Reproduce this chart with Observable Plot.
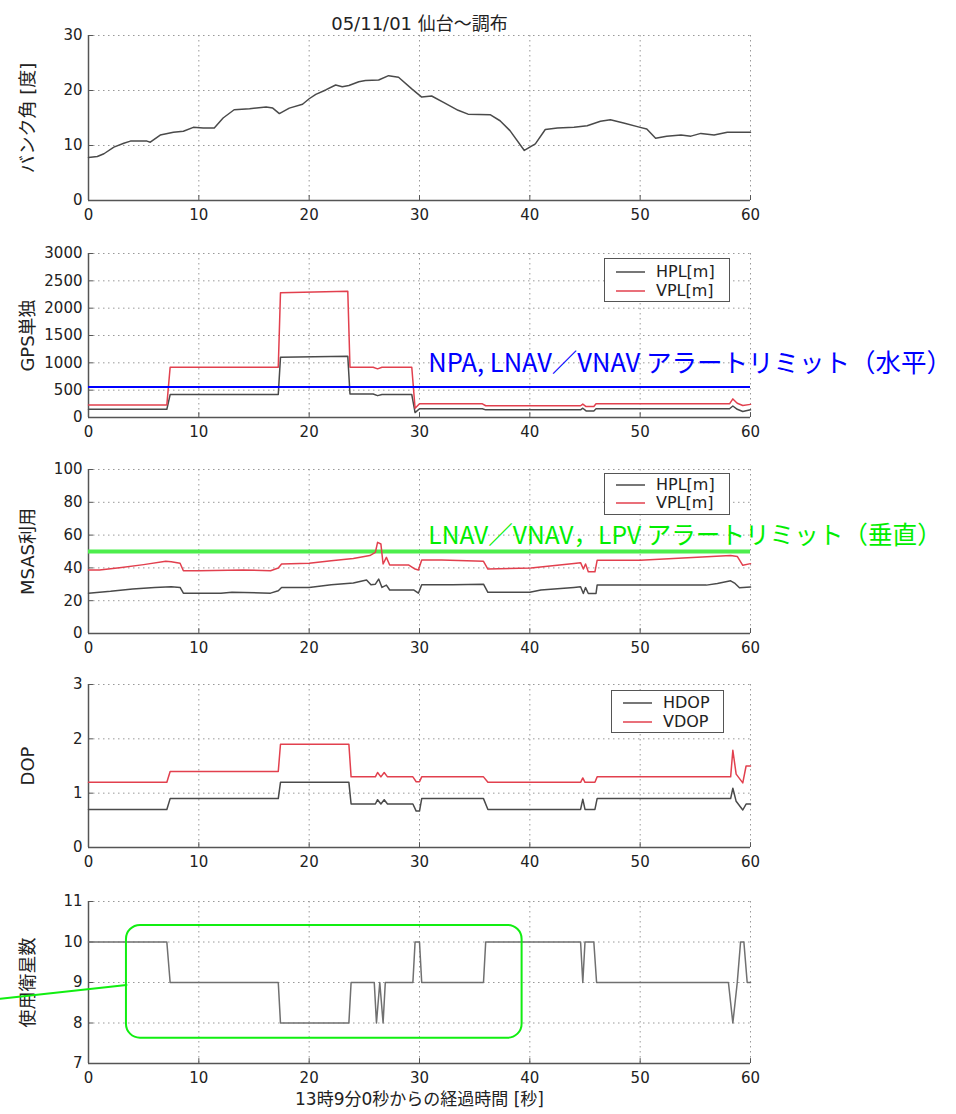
<!DOCTYPE html>
<html>
<head>
<meta charset="utf-8">
<script src="https://cdn.jsdelivr.net/npm/d3@7"></script>
<script src="https://cdn.jsdelivr.net/npm/@observablehq/plot@0.6"></script>
<style>
  body { margin: 0; background: #fff; }
  #wrap { position: relative; width: 956px; height: 1114px; overflow: hidden; background: #fff; }
  .legend { position: absolute; border: 1px solid #555; background: #fff; box-sizing: border-box; }
  .legend svg { position: absolute; left: 0; top: 0; }
  .legend .lb { position: absolute; transform: translateY(-50%); font: 16px 'DejaVu Sans', sans-serif; color: #222; white-space: nowrap; line-height: 1; }
</style>
</head>
<body>
<div id="wrap"></div>
<script>
// ---------------- data ----------------
const title = "05/11/01 仙台～調布";
const xLabel = "13時9分0秒からの経過時間 [秒]";
const xTicks = [0, 10, 20, 30, 40, 50, 60];

// Panel 1: bank angle
const bankLabel = "バンク角 [度]";
const bankTicks = [0, 10, 20, 30];
const bankT = [0,0.8,1.4,2.3,3.2,3.8,5.3,5.6,6.5,7.7,8.6,9.5,10.4,11.4,12.2,13.2,14.6,16.1,16.7,17.3,18.2,19.4,20,20.6,21.5,22.4,23,23.6,24.5,25.1,26.3,27.2,28.1,29.3,30.2,31.1,32.3,33.5,34.4,36.4,37.3,38.2,39.5,40.5,41.4,42.5,44,45.2,46.4,47.3,48.5,50,50.6,51.4,52.4,53.7,54.6,55.5,56.7,57.9,60];
const bankV = [7.8,8,8.5,9.7,10.4,10.8,10.8,10.6,11.9,12.4,12.6,13.3,13.2,13.2,15,16.5,16.7,17,16.8,15.8,16.8,17.5,18.5,19.3,20.1,21,20.7,20.9,21.6,21.8,21.9,22.7,22.4,20.3,18.8,19,17.7,16.4,15.7,15.6,14.5,12.7,9.1,10.3,12.9,13.2,13.3,13.6,14.4,14.7,14.1,13.3,13,11.3,11.7,11.9,11.7,12.2,11.9,12.4,12.4];

// Panel 2: GPS only
const gpsLabel = "GPS単独";
const gpsTicks = [0, 500, 1000, 1500, 2000, 2500, 3000];
const gpsT   = [0,7.1,7.4,17.2,17.4,23.5,23.7,25.8,26.2,26.6,29.3,29.6,30.0,35.7,36.0,44.6,44.8,45.1,45.8,46.0,58.1,58.4,58.8,59.3,60];
const gpsVPL = [230,230,920,920,2280,2310,920,920,890,920,920,170,250,250,215,215,245,200,200,250,250,340,260,220,240];
const gpsHPL = [150,150,420,420,1100,1120,430,430,400,420,420,90,160,160,140,140,170,120,120,160,160,210,150,110,140];
const gpsLimit = [556];
const gpsNote = ["NPA, LNAV／VNAV アラートリミット（水平）"];
const gpsNoteAt = [30.8, 826];

// Panel 3: MSAS
const msasLabel = "MSAS利用";
const msasTicks = [0, 20, 40, 60, 80, 100];
const msasVT = [0,1,3,5,7,7.5,8.3,8.6,10,14,16.5,17.2,17.5,20,22,24,25.5,26,26.2,26.5,26.7,27,27.3,29,29.6,29.9,30.2,32,35.8,36.2,40.1,44,44.6,44.85,45.05,45.3,45.9,46.1,50,58.2,58.8,59.3,60];
const msasVPL = [38.7,38.7,40.3,42,44,43.8,42.8,38.3,38.3,38.7,38.3,39.9,42.4,42.8,44.4,45.8,47.5,49.5,55.6,54.6,42.4,46.4,41.8,41.8,39.3,38.7,44.8,44.8,44,39.3,39.9,42.7,43.2,39.3,42.4,37.6,37.6,44.6,44.6,47.6,47,41.6,42.6];
const msasHT = [0,2,4,6,7.5,8.3,8.6,12,13,16.5,17.2,17.5,20,22,24,25.2,25.6,26,26.3,26.6,27,27.3,29.5,29.9,30.2,33,35.8,36.2,40,41,44,44.6,44.85,45.05,45.3,46,46.1,56,57,58.2,58.6,59,60];
const msasHPL = [24.6,25.7,27.1,28.1,28.5,28.1,24.6,24.6,25.2,24.6,26.1,28.1,28.1,29.7,30.8,32.6,29.7,30.1,33.2,28.1,29.5,26.5,26.5,24.6,29.7,29.7,30.1,25.1,25.1,26.5,28.1,28.5,24.4,28.0,24.4,24.4,29.5,29.5,30.5,32.1,30.5,27.9,28.3];
const msasLimit = [50];
const msasNote = ["LNAV／VNAV，LPV アラートリミット（垂直）"];
const msasNoteAt = [30.8, 54.8];

// Panel 4: DOP
const dopLabel = "DOP";
const dopTicks = [0, 1, 2, 3];
const dopT  = [0,7.1,7.4,17.2,17.4,23.6,23.8,26,26.2,26.5,26.8,27.1,29.4,29.7,30.0,30.2,35.8,36.2,44.6,44.8,45.0,45.9,46.1,58.2,58.4,58.7,59.3,59.6,60];
const vdop  = [1.2,1.2,1.4,1.4,1.9,1.9,1.3,1.3,1.38,1.3,1.38,1.3,1.3,1.21,1.21,1.3,1.3,1.2,1.2,1.28,1.2,1.2,1.3,1.3,1.79,1.35,1.19,1.5,1.5];
const hdop  = [0.7,0.7,0.9,0.9,1.2,1.2,0.8,0.8,0.88,0.8,0.88,0.8,0.8,0.67,0.67,0.9,0.9,0.7,0.7,0.89,0.7,0.7,0.9,0.9,1.09,0.85,0.69,0.8,0.8];

// Panel 5: satellites used
const satLabel = "使用衛星数";
const satTicks = [7, 8, 9, 10, 11];
const satT = [0,7.1,7.4,17.2,17.4,23.6,23.8,25.9,26.1,26.4,26.7,26.9,29.4,29.6,30.0,30.2,35.8,36.0,44.6,44.8,45.0,45.8,46.05,58.0,58.4,58.8,59.1,59.4,59.7,60];
const sats = [10,10,9,9,8,8,9,9,8,9,8,9,9,10,10,9,9,10,10,9,10,10,9,9,8,9,10,10,9,9];
const satBox = [{x1: 3.44, x2: 39.3, y1: 7.625, y2: 10.41}];
const satLink = [{x: -7.98, y: 8.6}, {x: 3.44, y: 8.94}];

// ---------------- drawing ----------------
const FONT = "'DejaVu Sans', 'Noto Sans CJK JP', sans-serif";
const JP = "'Noto Sans CJK JP', sans-serif";
const GRAY = "#4a4a4a", RED = "#e2404e";
const wrap = document.getElementById("wrap");
const zip = (t, v) => t.map((x, i) => ({x, y: v[i]}));

function panel({top, marginTop, plotH, marginBottom, yDomain, yTicks, yLabel, marks}) {
  const [y0, y1] = yDomain;
  const chart = Plot.plot({
    width: 956,
    height: marginTop + plotH + marginBottom,
    marginLeft: 88, marginRight: 206, marginTop, marginBottom,
    x: {domain: [0, 60]},
    y: {domain: yDomain},
    style: {fontFamily: FONT, fontSize: "15px", color: "#222", background: "transparent", overflow: "visible"},
    marks: [
      Plot.gridX(xTicks.slice(1), {stroke: "#999", strokeOpacity: 1, strokeDasharray: "1.5,3.5"}),
      Plot.gridY(yTicks.slice(1), {stroke: "#999", strokeOpacity: 1, strokeDasharray: "1.5,3.5"}),
      Plot.axisX(xTicks, {tickSize: 0, tickPadding: 9, label: null, fontSize: 15, fill: "#222", tickFormat: d => String(d)}),
      Plot.axisY(yTicks, {tickSize: 0, tickPadding: 6, label: null, fontSize: 15, fill: "#222", tickFormat: d => String(d)}),
      Plot.ruleX(xTicks, {x: d => d, y1: y0, y2: y0 + (y1 - y0) * 0.03, stroke: "#555"}),
      Plot.ruleY(yTicks, {y: d => d, x1: 0, x2: 0.45, stroke: "#555"}),
      Plot.ruleX([0], {stroke: "#555", strokeWidth: 1.5}),
      Plot.ruleY([y0], {stroke: "#555", strokeWidth: 1.5}),
      Plot.text([yLabel], {text: d => d, frameAnchor: "left", textAnchor: "middle", rotate: -90, dx: -60, fontSize: 18, fontFamily: FONT, fill: "#222"}),
      ...marks
    ]
  });
  chart.style.position = "absolute";
  chart.style.left = "0px";
  chart.style.top = top + "px";
  wrap.append(chart);
}

function legend(left, top, w, h, items) {
  const box = document.createElement("div");
  box.className = "legend";
  Object.assign(box.style, {left: left + "px", top: top + "px", width: w + "px", height: h + "px"});
  const ns = "http://www.w3.org/2000/svg";
  const svg = document.createElementNS(ns, "svg");
  svg.setAttribute("width", w - 2);
  svg.setAttribute("height", h - 2);
  for (const it of items) {
    const ln = document.createElementNS(ns, "line");
    ln.setAttribute("x1", it.x0); ln.setAttribute("x2", it.x1);
    ln.setAttribute("y1", it.y); ln.setAttribute("y2", it.y);
    ln.setAttribute("stroke", it.color); ln.setAttribute("stroke-width", 1.5);
    svg.append(ln);
  }
  box.append(svg);
  for (const it of items) {
    const lb = document.createElement("div");
    lb.className = "lb";
    lb.style.left = it.tx + "px";
    lb.style.top = it.y + "px";
    lb.textContent = it.label;
    box.append(lb);
  }
  wrap.append(box);
}

// Panel 1
panel({
  top: 0, marginTop: 35, plotH: 165, marginBottom: 30,
  yDomain: [0, 30], yTicks: bankTicks, yLabel: bankLabel,
  marks: [
    Plot.line(zip(bankT, bankV), {x: "x", y: "y", stroke: GRAY, strokeWidth: 1.5}),
    Plot.text([title], {text: d => d, frameAnchor: "top", textAnchor: "middle", dy: -18, fontSize: 18, fontFamily: FONT, fill: "#222"})
  ]
});

// Panel 2
panel({
  top: 230, marginTop: 23, plotH: 164, marginBottom: 30,
  yDomain: [0, 3000], yTicks: gpsTicks, yLabel: gpsLabel,
  marks: [
    Plot.line(zip(gpsT, gpsHPL), {x: "x", y: "y", stroke: GRAY, strokeWidth: 1.5}),
    Plot.line(zip(gpsT, gpsVPL), {x: "x", y: "y", stroke: RED, strokeWidth: 1.5}),
    Plot.ruleY(gpsLimit, {stroke: "#0000ff", strokeWidth: 2}),
    Plot.text(gpsNote, {text: d => d, x: () => gpsNoteAt[0], y: () => gpsNoteAt[1], textAnchor: "start", lineAnchor: "bottom", fontSize: 25.5, fontFamily: JP, fill: "#0000ff"})
  ]
});
legend(604, 258, 126, 44, [
  {y: 13, x0: 11, x1: 40, tx: 51, color: GRAY, label: "HPL[m]"},
  {y: 32, x0: 11, x1: 40, tx: 51, color: RED, label: "VPL[m]"}
]);

// Panel 3
panel({
  top: 447, marginTop: 22, plotH: 164, marginBottom: 30,
  yDomain: [0, 100], yTicks: msasTicks, yLabel: msasLabel,
  marks: [
    Plot.ruleY(msasLimit, {stroke: "#4dee4d", strokeWidth: 4}),
    Plot.line(zip(msasHT, msasHPL), {x: "x", y: "y", stroke: GRAY, strokeWidth: 1.5}),
    Plot.line(zip(msasVT, msasVPL), {x: "x", y: "y", stroke: RED, strokeWidth: 1.5}),
    Plot.text(msasNote, {text: d => d, x: () => msasNoteAt[0], y: () => msasNoteAt[1], textAnchor: "start", lineAnchor: "bottom", fontSize: 24.6, fontFamily: JP, fill: "#00ee00"})
  ]
});
legend(604, 473, 126, 42, [
  {y: 11, x0: 11, x1: 40, tx: 51, color: GRAY, label: "HPL[m]"},
  {y: 29, x0: 11, x1: 40, tx: 51, color: RED, label: "VPL[m]"}
]);

// Panel 4
panel({
  top: 663, marginTop: 21, plotH: 163, marginBottom: 30,
  yDomain: [0, 3], yTicks: dopTicks, yLabel: dopLabel,
  marks: [
    Plot.line(zip(dopT, hdop), {x: "x", y: "y", stroke: GRAY, strokeWidth: 1.5}),
    Plot.line(zip(dopT, vdop), {x: "x", y: "y", stroke: RED, strokeWidth: 1.5})
  ]
});
legend(611, 690, 113, 43, [
  {y: 12, x0: 11, x1: 40, tx: 51, color: GRAY, label: "HDOP"},
  {y: 31, x0: 11, x1: 40, tx: 51, color: RED, label: "VDOP"}
]);

// Panel 5
panel({
  top: 877, marginTop: 24, plotH: 162, marginBottom: 51,
  yDomain: [7, 11], yTicks: satTicks, yLabel: satLabel,
  marks: [
    Plot.line(zip(satT, sats), {x: "x", y: "y", stroke: "#707070", strokeWidth: 1.5}),
    Plot.rect(satBox, {x1: "x1", x2: "x2", y1: "y1", y2: "y2", rx: 14, fill: "none", stroke: "#11ee11", strokeWidth: 2}),
    Plot.line(satLink, {x: "x", y: "y", stroke: "#11ee11", strokeWidth: 2}),
    Plot.text([xLabel], {text: d => d, frameAnchor: "bottom", textAnchor: "middle", dy: 41, fontSize: 17, fontFamily: FONT, fill: "#222"})
  ]
});
</script>
</body>
</html>
